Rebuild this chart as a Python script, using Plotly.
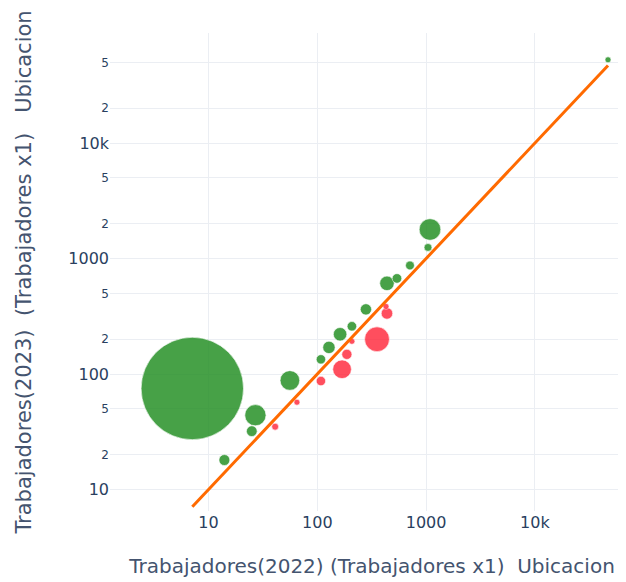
import numpy as np
import plotly.graph_objects as go

# Trabajadores por ubicacion
trab_2022 = [7.1, 27, 25, 14, 41, 56, 65, 108, 169, 187, 208, 108, 128, 162, 208,
             280, 354, 437, 428, 437, 540, 711, 1086, 1041, 47000]
trab_2023 = [75, 44, 32, 18, 35, 88, 57, 87, 110, 148, 192, 134, 170, 221, 259,
             363, 200, 335, 385, 610, 673, 871, 1785, 1248, 52600]

x = np.array(trab_2022, dtype=float)
y = np.array(trab_2023, dtype=float)
crece = y >= x
cambio = np.abs(np.log10(y / x))
tam = np.maximum(cambio * 100, 6)

FONT = "Verdana, DejaVu Sans, sans-serif"
TITLE_COLOR = "#44546f"

fig = go.Figure()
fig.add_trace(go.Scatter(
    x=x[crece], y=y[crece], mode="markers",
    marker=dict(size=tam[crece], sizemode="diameter", color="rgb(40,145,40)", opacity=0.85,
                line=dict(width=1, color="rgba(255,255,255,0.6)")),
    showlegend=False))
fig.add_trace(go.Scatter(
    x=x[~crece], y=y[~crece], mode="markers",
    marker=dict(size=tam[~crece], sizemode="diameter", color="rgb(255,35,55)", opacity=0.8,
                line=dict(width=1, color="rgba(255,255,255,0.6)")),
    showlegend=False))
lim = [x.min(), x.max()]
fig.add_trace(go.Scatter(x=lim, y=lim, mode="lines",
                         line=dict(color="#ff6a00", width=3), showlegend=False))

fig.update_layout(
    width=626, height=582,
    template="plotly_white",
    margin=dict(l=102, r=0, t=25, b=79),
    font=dict(family=FONT, size=16, color="#2a3f5f"),
    showlegend=False,
    xaxis=dict(type="log", range=[0.0947, 4.911], dtick=1, showgrid=True,
               gridcolor="#ebeef3", zeroline=False, automargin=False,
               title=dict(text="Trabajadores(2022) (Trabajadores x1)\u00a0\u00a0Ubicacion",
                          font=dict(size=20, color=TITLE_COLOR), standoff=27)),
    yaxis=dict(type="log", range=[0.814, 4.953], dtick="D2", showgrid=True,
               gridcolor="#ebeef3", zeroline=False, automargin=False,
               title=dict(text="Trabajadores(2023)\u00a0 (Trabajadores x1)\u00a0\u00a0\u00a0Ubicacion",
                          font=dict(size=21, color=TITLE_COLOR), standoff=30)),
)

fig.write_html("out.html")
